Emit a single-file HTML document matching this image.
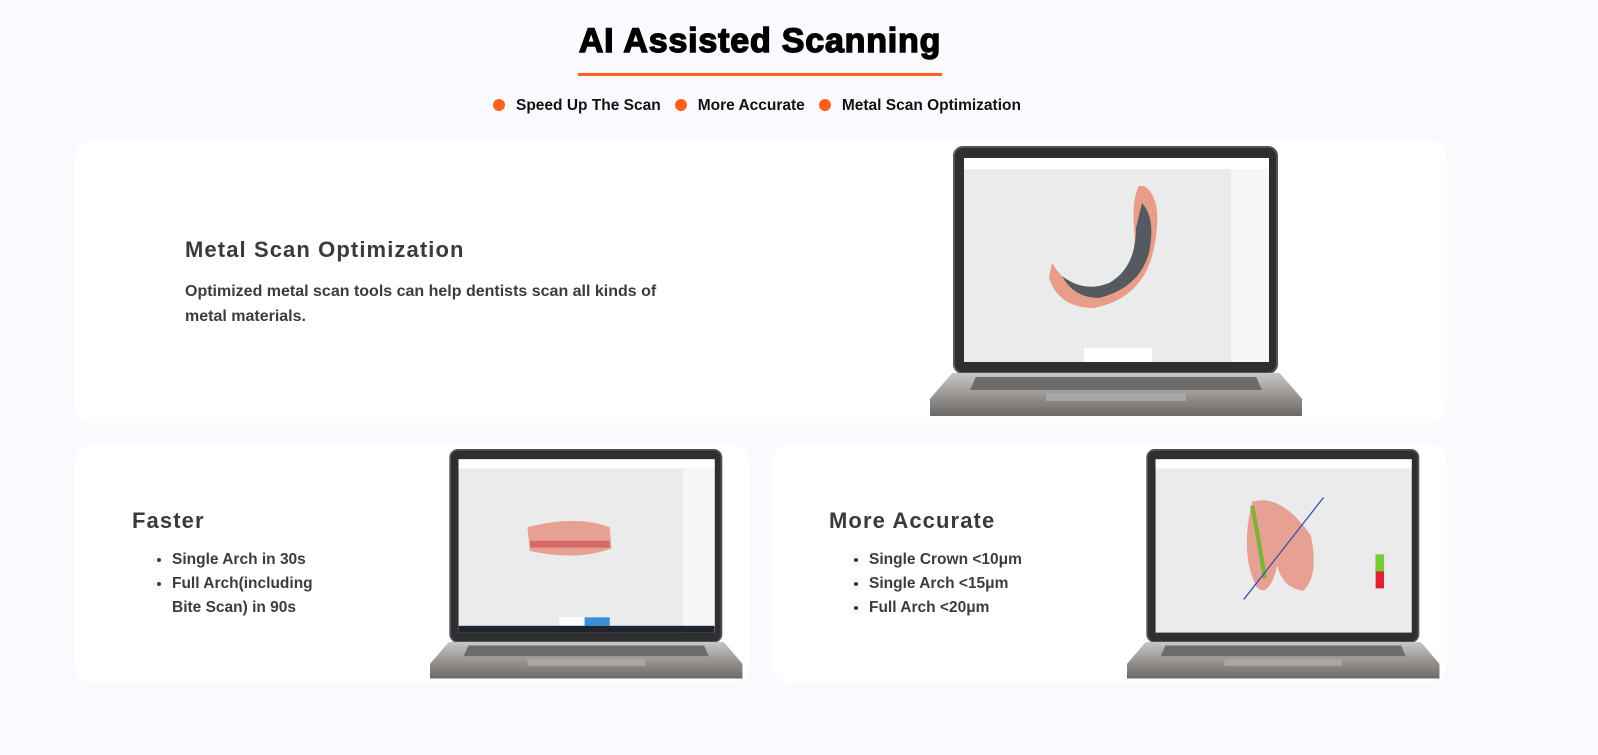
<!DOCTYPE html>
<html><head><meta charset="utf-8"><style>
*{margin:0;padding:0;box-sizing:border-box}
body{width:1598px;height:755px;background:#f9fafe;font-family:"Liberation Sans",Arial,sans-serif;position:relative;overflow:hidden}
.abs{position:absolute}
h1{position:absolute;left:578px;top:22px;width:364px;text-align:center;font-size:34px;font-weight:bold;color:#000;letter-spacing:0.8px;-webkit-text-stroke:1.4px #000;white-space:nowrap}
.ul{left:578px;top:73px;width:364px;height:3px;background:#ff5f1f}
.tags{left:493px;top:97px;font-size:15.5px;font-weight:bold;color:#111;white-space:nowrap}
.tags span{display:inline-block;margin-right:14px}
.tags i{display:inline-block;width:12px;height:12px;border-radius:50%;background:#ff5f1f;vertical-align:-1px;margin-right:11px}
.card{background:#fff;border-radius:20px}
.h{font-weight:bold;color:#3a3a3a;font-size:22px;letter-spacing:1.1px}
.p{font-weight:bold;color:#3c3c3c;font-size:16px;line-height:25px}
ul{font-weight:bold;color:#3c3c3c;font-size:15.5px;line-height:24px;padding-left:40px}
.lap{position:absolute;width:372px;height:270px;transform-origin:0 0}
.bez{position:absolute;left:23px;top:0;width:325px;height:228px;background:#2f2f31;border-radius:10px;border:2px solid #555}
.scr{position:absolute;left:9px;top:10px;width:305px;height:204px;background:#ecebeb;overflow:hidden}
.bar{position:absolute;left:0;top:0;width:100%;height:11px;background:#fff}
.side{position:absolute;right:0;top:11px;width:38px;height:193px;background:#f6f6f6}
.base{position:absolute;left:0;top:227px;width:372px;height:43px;background:linear-gradient(#c9c7c5,#8f8c8a 60%,#6c6a68);clip-path:polygon(6% 0,94% 0,100% 60%,100% 100%,0 100%,0 60%)}
.kb{position:absolute;left:40px;top:231px;width:292px;height:13px;background:#6e6c6a;clip-path:polygon(2% 0,98% 0,100% 100%,0 100%)}
.tp{position:absolute;left:116px;top:247px;width:140px;height:8px;background:#a9a7a5}
</style></head><body>
<h1>AI Assisted Scanning</h1>
<div class="abs ul"></div>
<div class="abs tags"><span><i></i>Speed Up The Scan</span><span><i></i>More Accurate</span><span><i></i>Metal Scan Optimization</span></div>

<div class="abs card" style="left:74px;top:140px;width:1373px;height:283px"></div>
<div class="abs card" style="left:74px;top:444px;width:676px;height:239px"></div>
<div class="abs card" style="left:771px;top:444px;width:676px;height:239px"></div>

<div class="abs h" style="left:185px;top:237px">Metal Scan Optimization</div>
<div class="abs p" style="left:185px;top:279px;width:485px">Optimized metal scan tools can help dentists scan all kinds of metal materials.</div>

<div class="abs h" style="left:132px;top:508px">Faster</div>
<ul class="abs" style="left:132px;top:548px"><li>Single Arch in 30s</li><li>Full Arch(including<br>Bite Scan) in 90s</li></ul>

<div class="abs h" style="left:829px;top:508px">More Accurate</div>
<ul class="abs" style="left:829px;top:548px"><li>Single Crown &lt;10μm</li><li>Single Arch &lt;15μm</li><li>Full Arch &lt;20μm</li></ul>

<!-- laptop 1 -->
<div class="lap" style="left:930px;top:146px">
 <div class="bez"><div class="scr"><div class="bar"></div><div class="side"></div>
  <svg class="abs" style="left:0;top:0" width="305" height="204">
   <path d="M180 28 Q200 40 190 90 Q180 140 130 150 Q95 150 85 120 L88 105 Q110 140 140 130 Q175 115 170 70 Q168 40 175 28 Z" fill="#e89d88"/>
   <path d="M178 45 Q192 60 185 95 Q175 130 135 140 Q110 140 98 118 Q120 135 145 125 Q172 110 172 70 Z" fill="#555a60"/>
   <rect x="120" y="190" width="68" height="14" fill="#fff"/>
  </svg></div></div>
 <div class="base"></div><div class="kb"></div><div class="tp"></div>
</div>

<!-- laptop 2 -->
<div class="lap" style="left:430px;top:449px;transform:scale(0.84,0.85)">
 <div class="bez"><div class="scr"><div class="bar"></div><div class="side"></div>
  <svg class="abs" style="left:0;top:0" width="305" height="204">
   <path d="M82 80 Q140 65 180 80 L182 105 Q140 120 85 108 Z" fill="#e6a193"/>
   <rect x="85" y="96" width="95" height="8" fill="#c8484a" opacity="0.6"/>
   <rect x="120" y="186" width="60" height="10" fill="#fff"/><rect x="150" y="186" width="30" height="10" fill="#3a8fd8"/>
   <rect x="0" y="196" width="305" height="8" fill="#1d2330"/>
  </svg></div></div>
 <div class="base"></div><div class="kb"></div><div class="tp"></div>
</div>

<!-- laptop 3 -->
<div class="lap" style="left:1127px;top:449px;transform:scale(0.84,0.85)">
 <div class="bez"><div class="scr"><div class="bar"></div>
  <svg class="abs" style="left:0;top:0" width="305" height="204">
   <path d="M115 50 Q150 40 185 90 Q195 140 175 155 Q150 150 145 125 Q135 165 120 150 Q100 110 115 50 Z" fill="#e6a193"/>
   <path d="M115 55 Q122 90 130 140" stroke="#7fb23a" stroke-width="5" fill="none"/>
   <line x1="200" y1="45" x2="105" y2="165" stroke="#3b4bb5" stroke-width="1.5"/>
   <rect x="262" y="112" width="10" height="40" fill="#d23"/><rect x="262" y="112" width="10" height="20" fill="#7c3"/>
  </svg></div></div>
 <div class="base"></div><div class="kb"></div><div class="tp"></div>
</div>
</body></html>
